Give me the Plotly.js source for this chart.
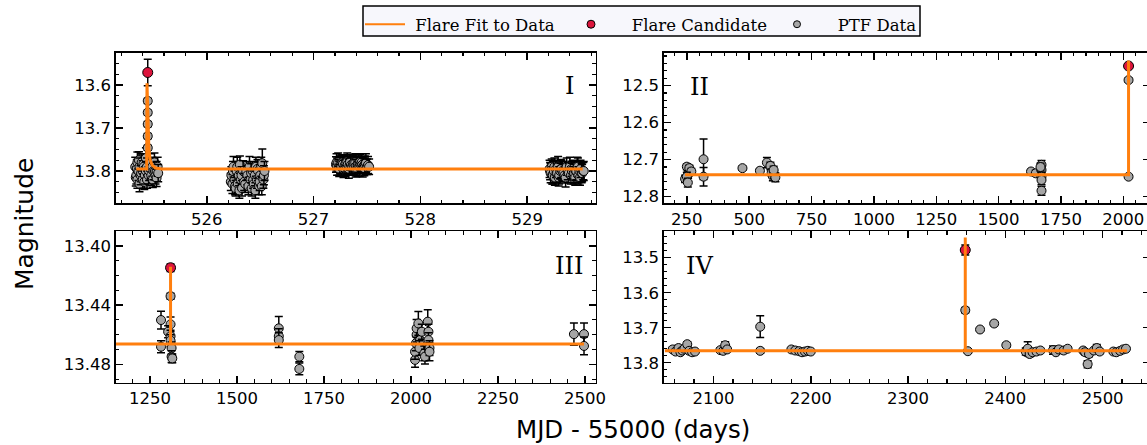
<!DOCTYPE html>
<html>
<head>
<meta charset="utf-8">
<script src="https://cdn.plot.ly/plotly-3.0.1.min.js"></script>
<style>
  html, body { margin: 0; padding: 0; background: #ffffff; overflow: hidden; }
  #chart { width: 1150px; height: 445px; }
</style>
</head>
<body>
<div id="chart"></div>
<script>
// ---------- Panel I (flare near MJD 55525.45) ----------
const p1TimeA = [525.33,525.335,525.34,525.345,525.35,525.35,525.36,525.365,525.37,525.37,525.38,525.385,525.39,525.40,525.40,525.405,525.41,525.415,525.42,525.425,525.43,525.43,525.44,525.44,525.455,525.46,525.47,525.475,525.48,525.49,525.495,525.50,525.51,525.515,525.52,525.53,525.53,525.54,525.545];
const p1MagA  = [13.790,13.815,13.810,13.795,13.780,13.820,13.800,13.775,13.790,13.830,13.810,13.805,13.780,13.800,13.820,13.785,13.790,13.825,13.810,13.795,13.770,13.800,13.790,13.820,13.810,13.800,13.780,13.795,13.810,13.790,13.820,13.800,13.780,13.800,13.810,13.800,13.816,13.790,13.805];
const p1ErrA  = [0.022,0.020,0.020,0.022,0.024,0.020,0.022,0.020,0.020,0.018,0.022,0.020,0.020,0.024,0.020,0.022,0.022,0.018,0.020,0.022,0.024,0.022,0.020,0.020,0.020,0.022,0.020,0.022,0.024,0.022,0.018,0.020,0.022,0.020,0.020,0.022,0.020,0.022,0.020];

const p1TimeB = [526.225,526.23,526.24,526.245,526.25,526.26,526.265,526.27,526.28,526.285,526.29,526.30,526.305,526.31,526.32,526.325,526.33,526.34,526.35,526.36,526.37,526.38,526.39,526.40,526.41,526.415,526.42,526.43,526.435,526.44,526.45,526.455,526.46,526.47,526.475,526.48,526.49,526.495,526.50,526.51,526.515,526.52,526.53,526.535,526.54];
const p1MagB  = [13.825,13.810,13.830,13.800,13.790,13.820,13.835,13.840,13.800,13.790,13.830,13.810,13.845,13.785,13.820,13.810,13.840,13.800,13.825,13.830,13.800,13.810,13.835,13.790,13.820,13.805,13.840,13.800,13.820,13.830,13.810,13.845,13.790,13.820,13.795,13.800,13.835,13.825,13.810,13.790,13.835,13.782,13.820,13.810,13.800];
const p1ErrB  = [0.020,0.020,0.022,0.022,0.024,0.020,0.020,0.018,0.022,0.022,0.020,0.024,0.018,0.020,0.022,0.020,0.018,0.024,0.020,0.020,0.022,0.022,0.020,0.024,0.020,0.022,0.018,0.022,0.020,0.020,0.024,0.018,0.022,0.020,0.022,0.022,0.020,0.020,0.024,0.022,0.020,0.033,0.020,0.022,0.022];

const p1TimeC = [527.21,527.215,527.22,527.23,527.235,527.24,527.25,527.255,527.26,527.27,527.275,527.28,527.29,527.295,527.30,527.31,527.315,527.32,527.33,527.335,527.34,527.35,527.36,527.37,527.375,527.38,527.39,527.395,527.40,527.41,527.415,527.42,527.43,527.435,527.44,527.45,527.455,527.46,527.47,527.475,527.48,527.49,527.50,527.51,527.52];
const p1MagC  = [13.785,13.780,13.790,13.780,13.792,13.795,13.785,13.787,13.790,13.780,13.784,13.795,13.788,13.795,13.782,13.790,13.778,13.785,13.795,13.789,13.780,13.786,13.790,13.785,13.781,13.792,13.780,13.794,13.788,13.795,13.787,13.783,13.790,13.779,13.785,13.780,13.786,13.792,13.788,13.793,13.785,13.782,13.790,13.786,13.790];
const p1ErrC  = [0.018,0.020,0.020,0.022,0.018,0.018,0.020,0.020,0.022,0.018,0.020,0.020,0.022,0.018,0.020,0.018,0.020,0.020,0.022,0.018,0.018,0.020,0.020,0.022,0.018,0.018,0.020,0.020,0.022,0.018,0.020,0.020,0.022,0.018,0.018,0.020,0.020,0.022,0.018,0.018,0.020,0.022,0.018,0.020,0.018];

const p1TimeD = [529.21,529.215,529.22,529.23,529.235,529.24,529.25,529.255,529.26,529.27,529.275,529.28,529.29,529.295,529.30,529.31,529.315,529.32,529.33,529.34,529.35,529.36,529.37,529.38,529.39,529.40,529.41,529.415,529.42,529.43,529.435,529.44,529.45,529.455,529.46,529.47,529.475,529.48,529.49,529.495,529.50,529.51,529.515,529.525,529.53];
const p1MagD  = [13.795,13.800,13.805,13.790,13.810,13.810,13.800,13.790,13.815,13.795,13.805,13.805,13.790,13.815,13.810,13.800,13.795,13.795,13.800,13.805,13.810,13.815,13.790,13.800,13.805,13.790,13.810,13.795,13.800,13.795,13.810,13.805,13.815,13.800,13.800,13.790,13.790,13.810,13.800,13.815,13.795,13.805,13.805,13.800,13.800];
const p1ErrD  = [0.020,0.020,0.022,0.018,0.020,0.020,0.022,0.020,0.018,0.020,0.022,0.022,0.024,0.020,0.020,0.018,0.022,0.020,0.022,0.020,0.018,0.022,0.020,0.020,0.022,0.022,0.020,0.018,0.018,0.020,0.020,0.022,0.018,0.022,0.020,0.022,0.020,0.020,0.022,0.018,0.020,0.022,0.020,0.020,0.022];

const p1RiseTime = [525.447,525.447,525.447,525.447,525.447];
const p1RiseMag  = [13.746,13.719,13.691,13.664,13.637];
const p1RiseErr  = [0.006,0.006,0.006,0.006,0.006];

const p1CandTime = [525.447];
const p1CandMag = [13.571];
const p1CandErr = [0.031];
const p1FitTime = [525.34,525.437,525.440,525.445,525.450,525.458,525.470,525.490,525.520,525.580,529.520];
const p1FitMag  = [13.795,13.795,13.596,13.640,13.700,13.750,13.775,13.787,13.793,13.795,13.795];

// ---------- Panel II ----------
const p2Time = [243,250,255,260,268,250,254,317,317,473,543,571,585,590,595,600,605,598,1630,1649,1672,1672,1672,1672,1672,1668,2021,2021];
const p2Mag  = [12.752,12.719,12.740,12.723,12.732,12.746,12.762,12.699,12.746,12.723,12.730,12.708,12.717,12.735,12.745,12.740,12.748,12.728,12.732,12.737,12.714,12.728,12.746,12.755,12.784,12.720,12.485,12.746];
const p2Err  = [0.010,0.008,0.010,0.008,0.008,0.012,0.012,0.055,0.025,0.005,0.006,0.014,0.010,0.010,0.012,0.010,0.012,0.010,0.006,0.008,0.012,0.010,0.012,0.012,0.012,0.010,0.005,0.004];
const p2CandTime = [2021];
const p2CandMag = [12.447];
const p2CandErr = [0.005];
const p2FitTime = [243,2021,2021];
const p2FitMag  = [12.741,12.741,12.432];

// ---------- Panel III ----------
const p3Time = [1281.6,1281.6,1309,1309,1302,1309,1309,1312,1312,1314,1620,1620,1620,1679,1679,
  2011.5,2011.5,2014,2016,2016,2021,2026,2024,2031,2038,2040,2048,2050,2050,2053,2053,2468,2497,2497];
const p3Mag  = [13.4501,13.4681,13.434,13.453,13.458,13.461,13.464,13.469,13.4748,13.476,13.4557,13.461,13.4636,13.4748,13.4831,
  13.477,13.4715,13.4658,13.460,13.4557,13.4524,13.4636,13.469,13.458,13.4726,13.4748,13.4512,13.458,13.4636,13.469,13.4715,13.4596,13.4596,13.4676];
const p3Err  = [0.006,0.004,0.002,0.005,0.004,0.004,0.004,0.004,0.004,0.003,0.008,0.005,0.005,0.0035,0.004,
  0.005,0.005,0.005,0.005,0.006,0.008,0.005,0.005,0.005,0.005,0.005,0.008,0.005,0.005,0.005,0.006,0.0075,0.0075,0.006];
const p3CandTime = [1309];
const p3CandMag = [13.4148];
const p3CandErr = [0.0025];
const p3FitTime = [1150,1309,1309,1309,2497];
const p3FitMag  = [13.4663,13.4663,13.4142,13.4663,13.4663];

// ---------- Panel IV ----------
const p4Time = [2058,2061,2064,2066,2068,2070,2073,2075,2078,2081,2107,2110,2112,2114,2148,2148,
  2180,2184,2188,2191,2194,2197,2200,2358.8,2361.5,2374,2388.5,2401,
  2421,2423,2425,2428,2432,2436,2449,2452,2455,2460,2464,2480,2482,2484.6,2486,2491,2494,2497,
  2511,2514,2518,2521,2524];
const p4Mag  = [13.762,13.768,13.758,13.770,13.765,13.760,13.747,13.766,13.770,13.768,13.764,13.766,13.750,13.762,13.697,13.766,
  13.762,13.765,13.767,13.770,13.768,13.766,13.768,13.650,13.767,13.705,13.688,13.750,
  13.768,13.760,13.775,13.770,13.768,13.765,13.764,13.770,13.762,13.765,13.760,13.765,13.770,13.804,13.775,13.765,13.758,13.768,
  13.768,13.770,13.766,13.762,13.760];
const p4Err  = [0.006,0.006,0.008,0.006,0.006,0.006,0.007,0.006,0.005,0.005,0.006,0.005,0.010,0.006,0.031,0.007,
  0.004,0.004,0.004,0.004,0.004,0.004,0.004,0.008,0.005,0.005,0.006,0.006,
  0.010,0.020,0.008,0.006,0.006,0.006,0.012,0.006,0.006,0.006,0.006,0.006,0.008,0.010,0.008,0.006,0.010,0.006,
  0.005,0.005,0.005,0.005,0.005];
const p4CandTime = [2358.8];
const p4CandMag = [13.478];
const p4CandErr = [0.014];
const p4FitTime = [2050,2358.8,2358.8,2358.8,2525];
const p4FitMag  = [13.766,13.766,13.442,13.766,13.766];

// ---------- legend names ----------
const NBSP = '\u00a0';
const legendNames = [NBSP + 'Flare Fit to Data', NBSP.repeat(3) + 'Flare Candidate', NBSP.repeat(3) + 'PTF Data'];

// ---------- styling ----------
const W = 1150, H = 445;
const FIT_COLOR = '#ff7f0e';
const PTF_FILL = '#a6a6a6';
const CAND_FILL = '#dc143c';

// each measurement is its own trace so later error caps overlay earlier markers
function pointTraces(t, m, e, xa, ya, fill, size) {
  const out = [];
  for (let i = 0; i < t.length; i++) {
    out.push({
      type: 'scatter', mode: 'markers', x: [t[i]], y: [m[i]], xaxis: xa, yaxis: ya,
      marker: { size: size, color: fill, line: { color: '#000', width: 1 } },
      error_y: { type: 'data', array: [e[i]], visible: true, color: '#000', thickness: 1.5, width: 4 },
      showlegend: false, hoverinfo: 'skip'
    });
  }
  return out;
}
function fitTrace(t, m, xa, ya) {
  return {
    type: 'scatter', mode: 'lines', x: t, y: m, xaxis: xa, yaxis: ya,
    line: { color: FIT_COLOR, width: 3 }, showlegend: false, hoverinfo: 'skip'
  };
}

const traces = [].concat(
  pointTraces(p1TimeA, p1MagA, p1ErrA, 'x', 'y', PTF_FILL, 9),
  pointTraces(p1RiseTime, p1RiseMag, p1RiseErr, 'x', 'y', PTF_FILL, 9),
  pointTraces(p1TimeB, p1MagB, p1ErrB, 'x', 'y', PTF_FILL, 9),
  pointTraces(p1TimeC, p1MagC, p1ErrC, 'x', 'y', PTF_FILL, 9),
  pointTraces(p1TimeD, p1MagD, p1ErrD, 'x', 'y', PTF_FILL, 9),
  pointTraces(p1CandTime, p1CandMag, p1CandErr, 'x', 'y', CAND_FILL, 10),
  [fitTrace(p1FitTime, p1FitMag, 'x', 'y')],
  pointTraces(p2Time, p2Mag, p2Err, 'x2', 'y2', PTF_FILL, 9),
  pointTraces(p2CandTime, p2CandMag, p2CandErr, 'x2', 'y2', CAND_FILL, 10),
  [fitTrace(p2FitTime, p2FitMag, 'x2', 'y2')],
  pointTraces(p3Time, p3Mag, p3Err, 'x3', 'y3', PTF_FILL, 9),
  pointTraces(p3CandTime, p3CandMag, p3CandErr, 'x3', 'y3', CAND_FILL, 10),
  [fitTrace(p3FitTime, p3FitMag, 'x3', 'y3')],
  pointTraces(p4Time, p4Mag, p4Err, 'x4', 'y4', PTF_FILL, 9),
  pointTraces(p4CandTime, p4CandMag, p4CandErr, 'x4', 'y4', CAND_FILL, 10),
  [fitTrace(p4FitTime, p4FitMag, 'x4', 'y4')],
  [
    // legend keys
    { type: 'scatter', mode: 'lines', x: [null], y: [null], name: legendNames[0],
      line: { color: FIT_COLOR, width: 2 }, showlegend: true },
    { type: 'scatter', mode: 'markers', x: [null], y: [null], name: legendNames[1],
      marker: { size: 8, color: CAND_FILL, line: { color: '#000', width: 1 } }, showlegend: true },
    { type: 'scatter', mode: 'markers', x: [null], y: [null], name: legendNames[2],
      marker: { size: 7, color: PTF_FILL, line: { color: '#000', width: 1 } }, showlegend: true }
  ]
);

const tickFont = { family: 'DejaVu Sans', size: 16.5, color: '#000' };
const minorStyle = { ticks: 'inside', ticklen: 3.5, tickwidth: 1.2, tickcolor: '#000' };
function axis(opts, minorDtick) {
  return Object.assign({
    showline: true, linecolor: '#000', linewidth: 1.5, mirror: 'ticks',
    ticks: 'inside', ticklen: 7, tickwidth: 1.5, tickcolor: '#000',
    showgrid: false, zeroline: false, tickfont: tickFont, fixedrange: true,
    minor: Object.assign({ dtick: minorDtick }, minorStyle)
  }, opts);
}

// pixel-based domains
const L1 = 115.7 / W, R1 = 595.5 / W, L2 = 663.9 / W, R2 = 1.0;
const T1 = 1 - 52.7 / H, B1 = 1 - 203.3 / H, T2 = 1 - 231 / H, B2 = 1 - 382.7 / H;

function label(text, px, py, size, family, angle) {
  return { text: text, xref: 'paper', yref: 'paper', x: px / W, y: 1 - py / H,
    xanchor: 'center', yanchor: 'middle', showarrow: false, textangle: angle || 0,
    font: { family: family, size: size, color: '#000' } };
}

const layout = {
  width: W, height: H,
  margin: { l: 0, r: 0, t: 0, b: 0 },
  paper_bgcolor: '#fff', plot_bgcolor: '#fff',
  showlegend: true,
  legend: {
    orientation: 'h', x: 360 / W, xanchor: 'left', y: 1 - 7 / H, yanchor: 'top',
    bgcolor: 'rgba(0,0,0,0)', borderwidth: 0,
    font: { family: 'DejaVu Serif', size: 16.5, color: '#000' },
    itemwidth: 40, entrywidth: 151, entrywidthmode: 'pixels', traceorder: 'normal'
  },
  shapes: [
    { type: 'rect', xref: 'paper', yref: 'paper', layer: 'above',
      x0: 363 / W, x1: 920 / W, y0: 1 - 36 / H, y1: 1 - 6 / H,
      fillcolor: '#f7f7fc', line: { color: '#000', width: 1.5 } }
  ],
  xaxis: axis({ domain: [L1, R1], range: [525.147, 529.64], anchor: 'y', dtick: 1, tick0: 0 }, 0.2),
  yaxis: axis({ domain: [B1, T1], range: [13.875, 13.525], anchor: 'x', dtick: 0.1, tick0: 13.6, tickformat: '.1f' }, 0.025),
  xaxis2: axis({ domain: [L2, R2], range: [158, 2107], anchor: 'y2', dtick: 250, tick0: 0 }, 50),
  yaxis2: axis({ domain: [B1, T1], range: [12.818, 12.411], anchor: 'x2', dtick: 0.1, tick0: 12.5, tickformat: '.1f' }, 0.02),
  xaxis3: axis({ domain: [L1, R1], range: [1151.4, 2530], anchor: 'y3', dtick: 250, tick0: 0 }, 50),
  yaxis3: axis({ domain: [B2, T2], range: [13.4924, 13.390], anchor: 'x3', dtick: 0.04, tick0: 13.40, tickformat: '.2f' }, 0.01),
  xaxis4: axis({ domain: [L2, R2], range: [2049, 2548.7], anchor: 'y4', dtick: 100, tick0: 0 }, 20),
  yaxis4: axis({ domain: [B2, T2], range: [13.857, 13.4237], anchor: 'x4', dtick: 0.1, tick0: 13.5, tickformat: '.1f' }, 0.02),
  annotations: [
    label('I', 569, 86, 24, 'DejaVu Serif'),
    label('II', 699, 87, 24, 'DejaVu Serif'),
    label('III', 569, 266, 24, 'DejaVu Serif'),
    label('IV', 699.5, 266, 24, 'DejaVu Serif'),
    label('MJD - 55000 (days)', 632.5, 429, 24.5, 'DejaVu Sans'),
    label('Magnitude', 24, 224, 25, 'DejaVu Sans', -90)
  ]
};

Plotly.newPlot('chart', traces, layout, { displayModeBar: false, staticPlot: true });
</script>
</body>
</html>
